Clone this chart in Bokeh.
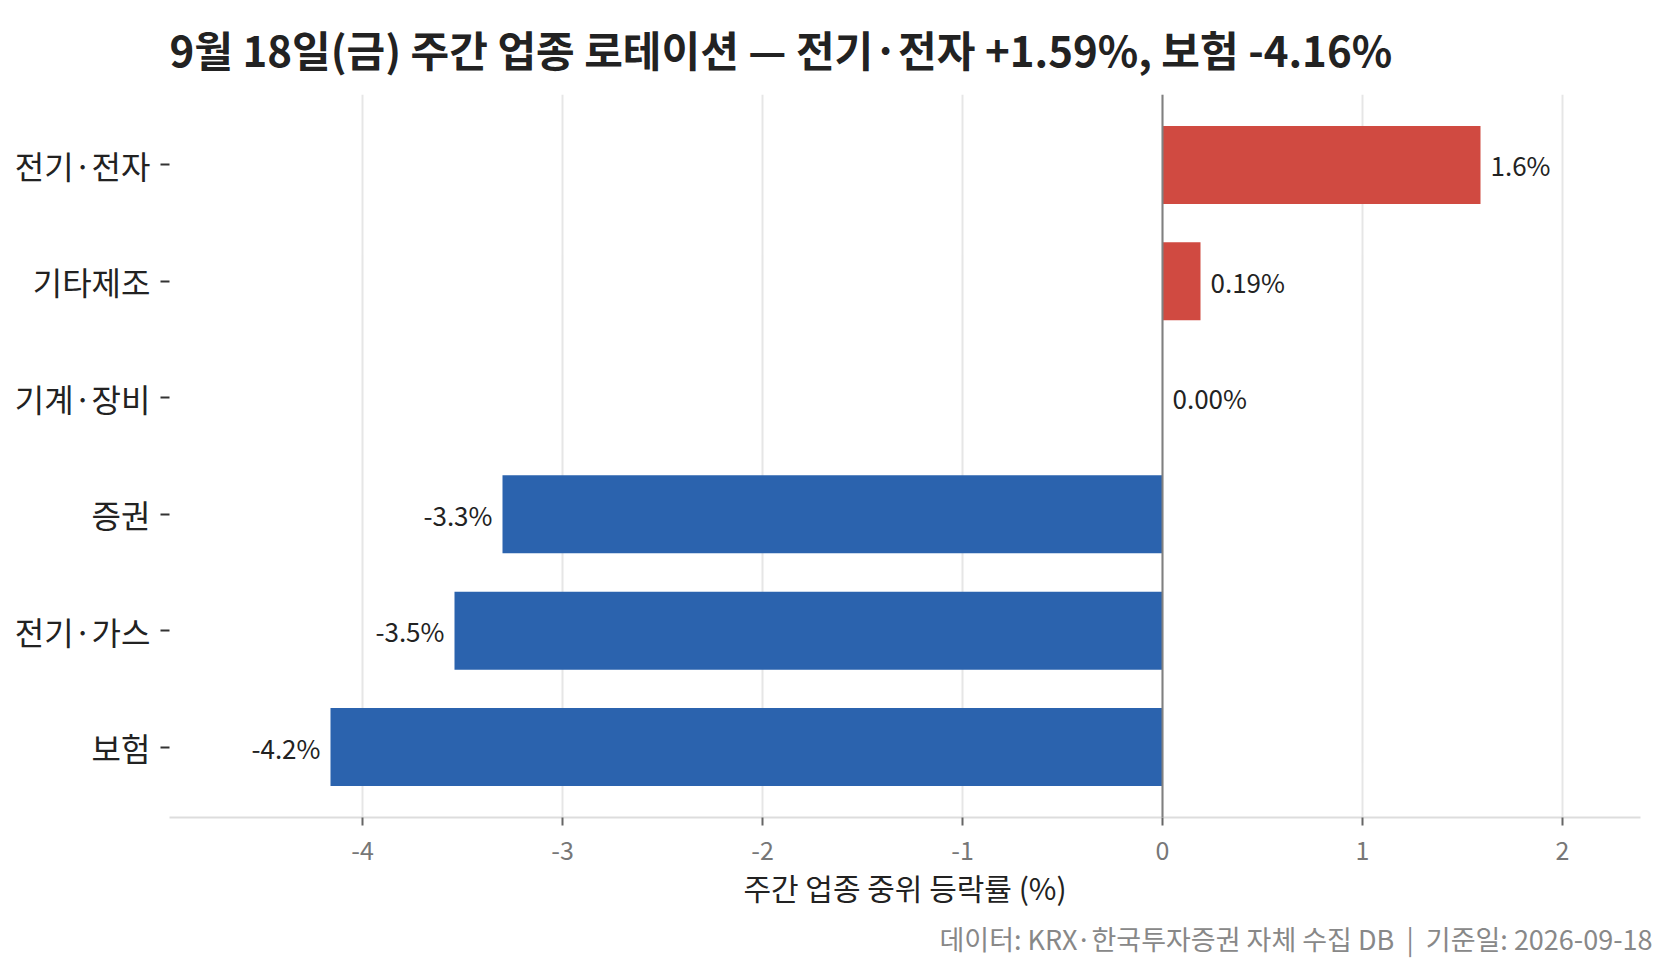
from bokeh.plotting import figure
from bokeh.models import FactorRange, Range1d, Span, Title, ColumnDataSource, FixedTicker, LabelSet
from bokeh.core.properties import value
from bokeh.embed import file_html
from bokeh.resources import INLINE

# data, top to bottom as in the chart
sectors = ["전기·전자", "기타제조", "기계·장비", "증권", "전기·가스", "보험"]
changes = [1.59, 0.19, 0.00, -3.30, -3.54, -4.16]
value_labels = ["1.6%", "0.19%", "0.00%", "-3.3%", "-3.5%", "-4.2%"]
x_ticks = [-4, -3, -2, -1, 0, 1, 2]
x_tick_labels = ["-4", "-3", "-2", "-1", "0", "1", "2"]

title_text = "9월 18일(금) 주간 업종 로테이션 — 전기·전자 +1.59%, 보험 -4.16%"
x_label = "주간 업종 중위 등락률 (%)"
footer_text = "데이터: KRX·한국투자증권 자체 수집 DB\u00a0\u00a0|\u00a0\u00a0기준일: 2026-09-18"

FONT = "Noto Sans CJK KR"
RED = "#d04a41"
BLUE = "#2b63ae"

colors = [RED if v >= 0 else BLUE for v in changes]
src = ColumnDataSource(dict(sector=sectors, change=changes, label=value_labels, color=colors))

pos = [i for i, v in enumerate(changes) if v >= 0]
neg = [i for i, v in enumerate(changes) if v < 0]
pos_src = ColumnDataSource(dict(sector=[sectors[i] for i in pos],
                                change=[changes[i] for i in pos],
                                label=[value_labels[i] for i in pos]))
neg_src = ColumnDataSource(dict(sector=[sectors[i] for i in neg],
                                change=[changes[i] for i in neg],
                                label=[value_labels[i] for i in neg]))

p = figure(width=1657, height=967, output_backend="svg", toolbar_location=None,
           y_range=FactorRange(factors=sectors[::-1], range_padding=0.105, range_padding_units="absolute"),
           x_range=Range1d(-4.965, 2.39),
           min_border_left=169, min_border_right=17, min_border_top=94, min_border_bottom=150)
p.outline_line_color = None
p.background_fill_color = "white"

p.title.text = title_text
p.title.align = "left"
p.title.vertical_align = "top"
p.title.text_font = FONT
p.title.text_font_size = "42px"
p.title.text_font_style = "bold"
p.title.text_color = "#222222"
p.title.standoff = 28

p.hbar(y="sector", left=0, right="change", height=0.67, color="color", line_color=None, source=src)

p.add_layout(Span(location=0, dimension="height", line_color="#808080", line_width=2))

p.add_layout(LabelSet(x="change", y="sector", text="label", source=pos_src, x_offset=10,
                      text_align="left", text_baseline="middle", text_font=value(FONT),
                      text_font_size="26px", text_color="#222222"))
p.add_layout(LabelSet(x="change", y="sector", text="label", source=neg_src, x_offset=-10,
                      text_align="right", text_baseline="middle", text_font=value(FONT),
                      text_font_size="26px", text_color="#222222"))

# x axis
p.xaxis.ticker = FixedTicker(ticks=x_ticks)
p.xaxis.major_label_overrides = dict(zip(x_ticks, x_tick_labels))
p.xaxis.axis_label = x_label
p.xaxis.axis_label_text_font = FONT
p.xaxis.axis_label_text_font_size = "30px"
p.xaxis.axis_label_text_font_style = "normal"
p.xaxis.axis_label_text_color = "#222222"
p.xaxis.axis_label_standoff = 2
p.xaxis.axis_line_color = "#dddddd"
p.xaxis.axis_line_width = 2
p.xaxis.major_tick_line_color = "#666666"
p.xaxis.major_tick_line_width = 2
p.xaxis.major_tick_out = 8
p.xaxis.major_tick_in = 0
p.xaxis.minor_tick_line_color = None
p.xaxis.major_label_text_font = FONT
p.xaxis.major_label_text_font_size = "25px"
p.xaxis.major_label_text_color = "#777777"
p.xaxis.major_label_standoff = 15

# y axis
p.yaxis.axis_line_color = None
p.yaxis.major_tick_line_color = "#333333"
p.yaxis.major_tick_line_width = 2
p.yaxis.major_tick_out = 9
p.yaxis.major_tick_in = 0
p.yaxis.major_label_text_font = FONT
p.yaxis.major_label_text_font_size = "32px"
p.yaxis.major_label_text_color = "#222222"
p.yaxis.major_label_standoff = 10

p.xgrid.grid_line_color = "#e6e6e6"
p.xgrid.grid_line_width = 2
p.ygrid.grid_line_color = None

p.add_layout(Title(text=footer_text, align="right", vertical_align="top", text_font=FONT,
                   text_font_size="27px", text_font_style="normal", text_color="#888888",
                   offset=-12, standoff=14), "below")

open("out.html", "w").write(file_html(p, INLINE))
